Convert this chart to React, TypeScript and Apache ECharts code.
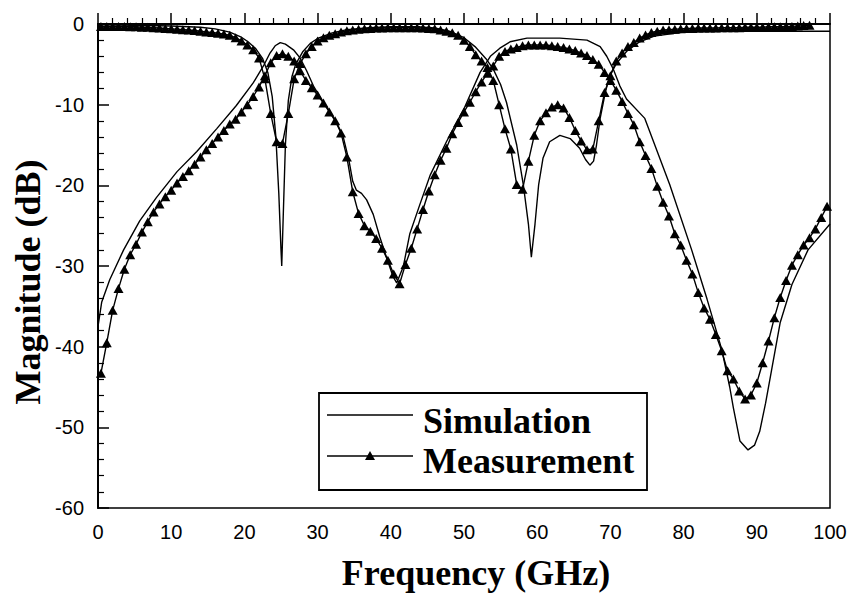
import React, { useEffect, useRef } from "react";
import * as echarts from "echarts";

// Measurement sampling grid (GHz)
const MEAS_START = 0.4;
const MEAS_STEP = 0.8;

// Measured reflection (dB), one value per grid point from 0.4 GHz
const measS11Db = [
  -0.3, -0.3, -0.3, -0.3, -0.3, -0.35, -0.35, -0.4, -0.4, -0.45,
  -0.5, -0.55, -0.6, -0.65, -0.7, -0.75, -0.8, -0.9, -1.0, -1.05,
  -1.15, -1.25, -1.4, -1.7, -2.1, -2.6, -3.2, -4.2, -6.8, -11.1,
  -14.6, -14.8, -11.1, -6.8, -4.9, -3.7, -2.8, -2.1, -1.7, -1.4,
  -1.2, -1.0, -0.85, -0.75, -0.65, -0.6, -0.55, -0.5, -0.5, -0.45,
  -0.45, -0.45, -0.45, -0.45, -0.45, -0.5, -0.55, -0.6, -0.75, -0.9,
  -1.1, -1.4, -2.0, -2.8, -3.8, -4.6, -5.4, -7.0, -10.0, -13.0,
  -15.5, -19.9, -20.5, -17.0, -13.8, -12.0, -11.0, -10.3, -10.0, -10.4,
  -11.6, -13.2, -14.5, -15.6, -15.5, -12.0, -8.5, -6.4, -4.6, -3.6,
  -2.8, -2.3, -1.75, -1.35, -1.05, -0.9, -0.75, -0.7, -0.65, -0.6,
  -0.55, -0.55, -0.5, -0.5, -0.5, -0.5, -0.45, -0.45, -0.45, -0.45,
  -0.4, -0.4, -0.4, -0.4, -0.35, -0.35, -0.35, -0.3, -0.3, -0.25,
  -0.2, -0.15,
];

// Measured transmission (dB), one value per grid point from 0.4 GHz
const measS21Db = [
  -43.3, -39.5, -35.5, -32.8, -30.4, -28.6, -27.3, -25.8, -24.5, -23.3,
  -22.3, -21.4, -20.6, -19.7, -18.9, -18.2, -17.4, -16.5, -15.6, -14.8,
  -14.0, -13.2, -12.4, -11.8, -10.9, -10.0, -9.0, -7.8, -6.4, -4.8,
  -3.9, -3.7, -4.0, -4.6, -5.8, -7.0, -7.9, -8.8, -9.8, -10.9,
  -12.0, -13.5, -16.5, -20.8, -23.5, -25.0, -25.7, -26.6, -27.8, -29.3,
  -31.0, -32.2, -29.8, -27.8, -25.4, -23.0, -20.7, -18.7, -16.9, -15.4,
  -13.6, -12.2, -10.9, -9.7, -8.4, -7.2, -6.1, -5.2, -4.0, -3.4,
  -3.1, -2.9, -2.7, -2.6, -2.6, -2.6, -2.6, -2.7, -2.8, -2.9,
  -3.1, -3.3, -3.6, -3.9, -4.4, -5.0, -6.0, -7.0, -8.2, -9.6,
  -11.1, -12.5, -14.6, -16.3, -17.9, -20.1, -22.1, -23.8, -26.0, -27.4,
  -29.3, -31.0, -33.3, -35.2, -36.6, -38.5, -40.5, -43.0, -44.0, -45.5,
  -46.5, -46.0, -44.5, -42.0, -39.3, -36.4, -33.9, -31.8, -29.9, -28.6,
  -27.4, -26.5, -25.4, -24.0, -22.6,
];

// Simulated reflection [GHz, dB]
const simS11 = [
  [0, -0.1], [5, -0.15], [10, -0.25], [14, -0.4], [16, -0.6], [18, -1.0],
  [19.5, -1.6], [20.5, -2.2], [21.5, -3.0], [22.5, -4.3], [23.2, -6.0],
  [23.8, -9.0], [24.3, -14.0], [24.7, -21.0], [25.0, -28.0], [25.1, -30.0],
  [25.3, -24.0], [25.6, -15.0], [26.0, -9.5], [26.5, -6.5], [27.0, -5.0],
  [28, -3.4], [29, -2.4], [30, -1.8], [32, -1.1], [34, -0.7], [37, -0.45],
  [40, -0.35], [44, -0.35], [46, -0.5], [48, -0.9], [50, -1.7], [51.5, -2.8],
  [53, -4.3], [54, -5.6], [55, -7.5], [55.8, -9.7], [57.2, -15.0],
  [58.1, -19.9], [58.8, -24.8], [59.2, -28.9], [59.7, -24.8], [60.2, -19.9],
  [60.8, -16.6], [61.7, -14.6], [63.1, -13.8], [64.5, -14.2], [65.8, -15.4],
  [66.6, -16.8], [67.2, -17.5], [67.7, -17.0], [68.1, -15.0], [68.6, -11.7],
  [69.3, -8.5], [69.9, -6.4], [70.9, -4.8], [72.2, -3.4], [74, -2.2],
  [76, -1.5], [80, -1.0], [85, -0.9], [90, -0.9], [95, -0.9], [100, -0.9],
];

// Simulated transmission [GHz, dB]
const simS21 = [
  [0, -37.5], [0.5, -34.5], [1.6, -31.7], [3.5, -28.0], [5.7, -24.4],
  [8.0, -21.5], [10.8, -18.3], [13.5, -15.8], [16.2, -13.0], [18.9, -10.1],
  [21.2, -7.3], [22.6, -5.2], [23.5, -3.6], [24.2, -2.7], [24.9, -2.3],
  [25.6, -2.5], [26.7, -3.2], [27.6, -4.2], [28.5, -5.8], [29.5, -7.8],
  [30.5, -9.3], [31.5, -10.6], [32.5, -12.0], [33.5, -14.0], [34.3, -17.0],
  [34.8, -19.5], [35.3, -20.6], [36.0, -21.0], [36.7, -21.8], [37.6, -23.6],
  [38.5, -26.4], [39.4, -28.9], [40.3, -31.3], [40.8, -32.1], [41.7, -30.1],
  [42.6, -26.0], [44.0, -22.3], [45.4, -18.7], [47.6, -14.6], [50.0, -10.5],
  [52.2, -6.0], [53.6, -4.0], [54.9, -3.0], [56.3, -2.2], [58.6, -1.75],
  [63.1, -1.75], [66.8, -2.0], [68.6, -2.8], [69.5, -4.0], [70.4, -5.6],
  [71.3, -7.7], [72.2, -9.3], [74.7, -11.7], [78.1, -19.9], [81.1, -28.0],
  [83.2, -34.1], [85.2, -40.3], [86.3, -45.0], [86.8, -47.6], [87.7, -51.7],
  [88.8, -52.8], [89.7, -52.2], [90.4, -50.5], [91.2, -47.0], [92.0, -43.0],
  [93.2, -37.0], [94.8, -32.3], [97.0, -28.0], [100, -24.8],
];

const legendLabels = ["Simulation", "Measurement"];
const xTicks = { min: 0, max: 100, interval: 10 };
const yTicks = { min: -60, max: 0, interval: 10 };

const toPairs = (vals: number[]) =>
  vals.map((v, i) => [+(MEAS_START + MEAS_STEP * i).toFixed(2), v]);

export default function App() {
  const ref = useRef<HTMLDivElement>(null);
  useEffect(() => {
    if (!ref.current) return;
    const chart = echarts.init(ref.current, undefined, { renderer: "svg" });
    const sans = "'Liberation Sans', Arial, sans-serif";
    const serif = "'Liberation Serif', 'Times New Roman', serif";
    const lineStyle = { color: "#000", width: 1.4 };
    const axisCommon = {
      axisLine: { show: true, lineStyle: { color: "#000", width: 2 } },
      axisTick: { show: true, inside: true, length: 11, lineStyle: { color: "#000", width: 1.5 } },
      minorTick: { show: true, splitNumber: 5, length: 6, lineStyle: { color: "#000", width: 1.2 } },
      splitLine: { show: false },
      minorSplitLine: { show: false },
    };
    const titleFont = { fontFamily: serif, fontWeight: "bold", fontSize: 36, fill: "#000" };
    const lx0 = 327, lx1 = 413, ly0 = 415, ly1 = 456;
    chart.setOption({
      animation: false,
      backgroundColor: "#fff",
      grid: { left: 98, top: 24, width: 732, height: 491, show: true, borderColor: "#000", borderWidth: 1.5, containLabel: false },
      xAxis: {
        type: "value",
        ...xTicks,
        ...axisCommon,
        name: "Frequency (GHz)",
        nameLocation: "middle",
        nameGap: 47,
        nameTextStyle: { fontFamily: serif, fontWeight: "bold", fontSize: 36, color: "#000", padding: [0, 0, 0, 24] },
        axisLabel: { fontFamily: sans, fontSize: 20, color: "#000", margin: 14 },
      },
      yAxis: {
        type: "value",
        ...yTicks,
        ...axisCommon,
        axisLabel: { fontFamily: sans, fontSize: 20, color: "#000", margin: 14 },
      },
      graphic: [
        {
          type: "text", x: 28, y: 282, rotation: Math.PI / 2,
          style: { text: "Magnitude (dB)", ...titleFont, align: "center", verticalAlign: "middle" },
        },
        {
          type: "rect", shape: { x: 319, y: 393, width: 328, height: 97 },
          style: { fill: "#fff", stroke: "#000", lineWidth: 1.8 }, z: 10,
        },
        { type: "line", shape: { x1: lx0, y1: ly0, x2: lx1, y2: ly0 }, style: { stroke: "#000", lineWidth: 1.4 }, z: 11 },
        { type: "line", shape: { x1: lx0, y1: ly1, x2: lx1, y2: ly1 }, style: { stroke: "#000", lineWidth: 1.4 }, z: 11 },
        {
          type: "polygon", shape: { points: [[370, ly1 - 5], [365, ly1 + 4], [375, ly1 + 4]] },
          style: { fill: "#000" }, z: 11,
        },
        {
          type: "text", x: 423, y: 421, z: 11,
          style: { text: legendLabels[0], ...titleFont, align: "left", verticalAlign: "middle" },
        },
        {
          type: "text", x: 423, y: 461, z: 11,
          style: { text: legendLabels[1], ...titleFont, align: "left", verticalAlign: "middle" },
        },
      ],
      series: [
        { name: "Simulation S21", type: "line", data: simS21, symbol: "none", showSymbol: false, lineStyle, itemStyle: { color: "#000" }, z: 2 },
        { name: "Simulation S11", type: "line", data: simS11, symbol: "none", showSymbol: false, lineStyle, itemStyle: { color: "#000" }, z: 2 },
        {
          name: "Measurement S21", type: "line", data: toPairs(measS21Db), symbol: "triangle", symbolSize: [10, 9],
          showSymbol: true, itemStyle: { color: "#000" }, lineStyle, z: 3,
        },
        {
          name: "Measurement S11", type: "line", data: toPairs(measS11Db), symbol: "triangle", symbolSize: [10, 9],
          showSymbol: true, itemStyle: { color: "#000" }, lineStyle, z: 3,
        },
      ],
    });
    return () => chart.dispose();
  }, []);
  return <div ref={ref} style={{ position: "fixed", left: 0, top: 0, width: 854, height: 596, background: "#fff" }} />;
}
